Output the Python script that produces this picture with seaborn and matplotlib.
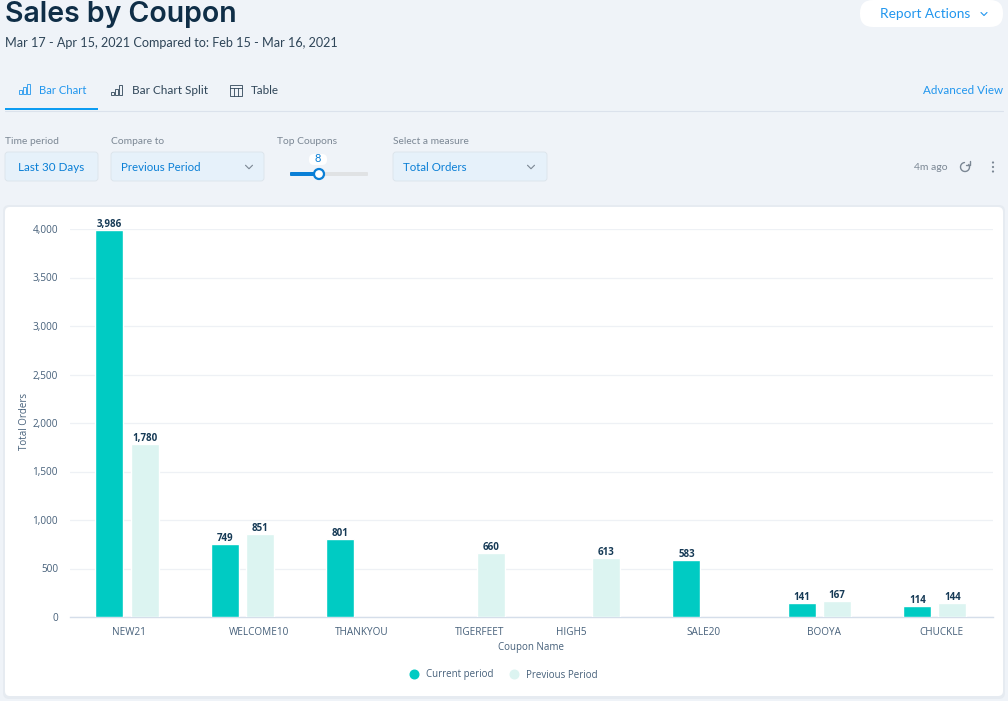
import numpy as np
import pandas as pd
import matplotlib
matplotlib.use("Agg")
import matplotlib.pyplot as plt
import seaborn as sns
from matplotlib.lines import Line2D
from matplotlib.patches import FancyBboxPatch, Rectangle, Circle
from matplotlib.transforms import ScaledTranslation

coupons = ["NEW21", "WELCOME10", "THANKYOU", "TIGERFEET", "HIGH5", "SALE20", "BOOYA", "CHUCKLE"]
current = [3986, 749, 801, np.nan, np.nan, 583, 141, 114]
previous = [1780, 851, np.nan, 660, 613, np.nan, 167, 144]
series_names = ["Current period", "Previous Period"]
y_ticks = [0, 500, 1000, 1500, 2000, 2500, 3000, 3500, 4000]
label_nudge_px = [2, 17, 4, 6, -17, 0, 5, 7]

W, H = 1008, 701
BG = "#eff3f8"; NAVY = "#0f2e47"; BLUE = "#2196ee"; DBLUE = "#0a7fd6"; GREY = "#7b8794"
TEAL = "#00cbc3"; PALE = "#dcf4f1"; FIELD = "#e6f1fa"; FIELDE = "#dbe3ea"
AXTXT = "#46607a"

sns.set_theme(style="white")
plt.rcParams["font.family"] = ["Open Sans", "DejaVu Sans"]
fig = plt.figure(figsize=(W / 100, H / 100), dpi=100, facecolor=BG)

# page furniture, pixel coordinates
ui = fig.add_axes([0, 0, 1, 1], zorder=0)
ui.set_xlim(0, W); ui.set_ylim(H, 0); ui.axis("off")

def box(x, y, w, h, r, fc, ec="none", lw=0.6, z=1):
    ui.add_patch(FancyBboxPatch((x + r, y + r), w - 2 * r, h - 2 * r,
                                boxstyle=f"round,pad={r}", fc=fc, ec=ec, lw=lw, zorder=z))

def label(x, y, s, size=8, color=NAVY, ha="left", family="Lato", weight="normal"):
    ui.text(x, y, s, fontsize=size, color=color, ha=ha, va="center", family=family, weight=weight)

def chevron(x, y, color=GREY, s=4):
    ui.plot([x - s, x, x + s], [y - s / 2, y + s / 2, y - s / 2], color=color, lw=0.8)

label(5, 15, "Sales by Coupon", size=20.5, family="Inter", weight="semibold")
label(5, 43, "Mar 17 - Apr 15, 2021 Compared to: Feb 15 - Mar 16, 2021", size=9.1, color="#2f4558")
box(860, 0, 143, 27, 13, "white")
label(880, 14, "Report Actions", size=9.8, color=BLUE)
chevron(984, 14, BLUE, 3)

label(39, 90, "Bar Chart", size=8.1, color=BLUE)
label(132, 90, "Bar Chart Split", size=8.5, color="#2f4558")
label(251, 90, "Table", size=8.4, color="#2f4558")
label(1003, 91, "Advanced View", size=8.4, color=BLUE, ha="right")
ui.plot([5, 1003], [110.5, 110.5], color="#dbe2ec", lw=0.8)
ui.add_patch(Rectangle((5, 108), 93, 2, fc="#0d9cf2", ec="none", zorder=2))

# tab icons
for dx, h in zip((19, 23, 27), (4, 7, 10)):
    ui.add_patch(Rectangle((dx, 94 - h), 3, h, fc="none", ec=BLUE, lw=0.6))
for dx, h in zip((111, 115, 119), (3, 6, 10)):
    ui.add_patch(Rectangle((dx, 95 - h), 3, h, fc="none", ec="#2f4558", lw=0.6))
ui.add_patch(Rectangle((230, 85), 12, 11, fc="none", ec="#2f4558", lw=0.6))
ui.plot([230, 242], [88, 88], color="#2f4558", lw=0.6)
for xv in (234, 238):
    ui.plot([xv, xv], [88, 96], color="#2f4558", lw=0.6)

label(5, 141, "Time period", size=7.4, color=GREY)
label(111, 141, "Compare to", size=7.4, color=GREY)
label(277, 141, "Top Coupons", size=7.4, color=GREY)
label(393, 141, "Select a measure", size=7.4, color=GREY)

box(5, 152, 93, 29, 3, FIELD, FIELDE)
box(111, 152, 153, 29, 3, FIELD, FIELDE)
box(393, 152, 154, 29, 3, FIELD, FIELDE)
label(51.5, 167.5, "Last 30 Days", size=8.4, color=DBLUE, ha="center")
label(121, 167.5, "Previous Period", size=8.3, color=DBLUE)
label(403, 167.5, "Total Orders", size=8.3, color=DBLUE)
chevron(249, 167, s=3.5); chevron(531, 167, s=3.5)

ui.add_patch(FancyBboxPatch((291, 173), 76, 2, boxstyle="round,pad=1", fc="#e0e2e4", ec="none", zorder=1))
ui.add_patch(FancyBboxPatch((291, 173), 26, 2, boxstyle="round,pad=1", fc=DBLUE, ec="none", zorder=2))
ui.add_patch(Circle((319, 174), 5, fc="white", ec=DBLUE, lw=1.6, zorder=3))
box(309, 154, 18, 11, 5, "white")
label(318, 159, "8", size=8, color=DBLUE, ha="center")

label(914, 167, "4m ago", size=7.5, color=GREY)
ui.plot(965 + 4.5 * np.cos(np.linspace(-0.6, 4.6, 30)),
        167 + 4.5 * np.sin(np.linspace(-0.6, 4.6, 30)), color=GREY, lw=1)
ui.plot([969.5, 969.5, 966], [161, 165, 165], color=GREY, lw=1)
for yy in (162.5, 167, 171.5):
    ui.add_patch(Circle((993, yy), 1.1, fc=GREY, ec="none"))

# card
box(3, 205, 1002, 494, 6, "#e6ebf1", z=1)
box(5, 207, 998, 489, 5, "white", z=2)

# chart
x0, x1, y0, y1 = 70, 993, 617, 229
ax = fig.add_axes([x0 / W, 1 - y0 / H, (x1 - x0) / W, (y0 - y1) / H], zorder=2)
ax.patch.set_alpha(0)
df = pd.DataFrame({"Coupon": coupons * 2,
                   "Period": [series_names[0]] * len(coupons) + [series_names[1]] * len(coupons),
                   "Orders": current + previous})
sns.barplot(data=df, x="Coupon", y="Orders", hue="Period", order=coupons, hue_order=series_names,
            palette=[TEAL, PALE], width=0.607, gap=0.2, saturation=1, ax=ax, zorder=3, legend=False)
ax.set_xlim(-(127 - x0) / 115.4, 7 + (x1 - 934.8) / 115.4)
ax.set_ylim(0, 4000)
ax.set_yticks(y_ticks, [f"{v:,}" for v in y_ticks])
ax.grid(axis="y", color="#eef1f5", lw=0.9, zorder=0)
ax.set_axisbelow(True)
sns.despine(ax=ax, left=True, top=True, right=True)
ax.spines["bottom"].set_color("#d5deea")
ax.spines["bottom"].set_linewidth(1)
ax.tick_params(axis="both", length=0, labelsize=7.2, labelcolor=AXTXT)
ax.tick_params(axis="y", pad=8.6)
ax.tick_params(axis="x", pad=7)
for t, dx in zip(ax.get_xticklabels(), label_nudge_px):
    t.set_transform(t.get_transform() + ScaledTranslation(dx / 100, 0, fig.dpi_scale_trans))
for cont in ax.containers:
    vals = [b.get_height() for b in cont]
    ax.bar_label(cont, labels=["" if np.isnan(v) else f"{v:,.0f}" for v in vals], padding=0,
                 fontsize=7, fontweight="bold", color="#163a56")
ax.set_xlabel("Coupon Name", fontsize=7, color=AXTXT)
ax.set_ylabel("Total Orders", fontsize=7, color=AXTXT)
ax.xaxis.set_label_coords((531 - x0) / (x1 - x0), -(642 - y0) / (y0 - y1), transform=ax.transAxes)
ax.yaxis.set_label_coords((30 - x0) / (x1 - x0), (y0 - 421) / (y0 - y1), transform=ax.transAxes)
handles = [Line2D([], [], ls="", marker="o", ms=6.2, color=c) for c in (TEAL, PALE)]
ax.legend(handles, series_names, loc="center", bbox_to_anchor=((501 - x0) / (x1 - x0), -(675 - y0) / (y0 - y1)),
          ncol=2, frameon=False, fontsize=7, labelcolor=AXTXT, handletextpad=0.15, columnspacing=1.2)
fig.savefig("out.png", dpi=100, facecolor=BG)
